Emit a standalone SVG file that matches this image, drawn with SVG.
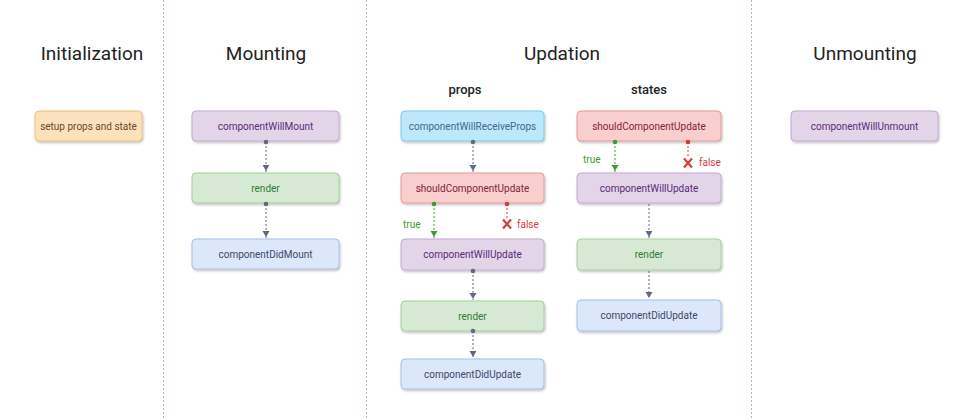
<svg xmlns="http://www.w3.org/2000/svg" width="966" height="420" viewBox="0 0 966 420">
<defs>
<filter id="sh" x="-10%" y="-20%" width="120%" height="150%">
<feDropShadow dx="1" dy="1.5" stdDeviation="0.8" flood-color="#000" flood-opacity="0.25"/>
</filter>
<marker id="ag" viewBox="0 0 8 8" refX="4" refY="8" markerWidth="7" markerHeight="7" markerUnits="userSpaceOnUse" orient="auto-start-reverse"><path d="M0,0 L8,0 L4,8 Z" transform="rotate(0)" fill="#5d6b82"/></marker>
</defs>
<style>
.sep{stroke:#9cc98e;stroke-width:1;stroke-dasharray:2 2}
.title{font-family:Roboto,"Liberation Sans",sans-serif;font-size:19px;fill:#222;text-anchor:middle}
.sub{font-family:Roboto,"Liberation Sans",sans-serif;font-size:13px;font-weight:500;fill:#222;text-anchor:middle}
.box{filter:url(#sh);stroke-width:1}
.t{font-family:Roboto,"Liberation Sans",sans-serif;font-size:10px;text-anchor:middle}
.or{fill:#fde1bd;stroke:#eec081}
.pu{fill:#e2d5e8;stroke:#c2aad0}
.gr{fill:#d6e9d3;stroke:#a5cf9a}
.bl{fill:#dbe7fb;stroke:#a5bfe6}
.cy{fill:#bde7fa;stroke:#7ccbe8}
.rd{fill:#f8cfcd;stroke:#e49a99}
.tor{fill:#6a4a2a}.tpu{fill:#5a2a7a}.tgr{fill:#2f7d32}.tbl{fill:#394a6a}.tcy{fill:#3e6a8c}.trd{fill:#8a2035}
.ln{stroke:#5d6b82;stroke-width:1;stroke-dasharray:2 2;fill:none}
.dot{fill:#5d6b82}
.lg{stroke:#3d9a2e;stroke-width:1;stroke-dasharray:2 2;fill:none}
.lr{stroke:#d43b3b;stroke-width:1;stroke-dasharray:2 2;fill:none}
.lbl{font-family:Roboto,"Liberation Sans",sans-serif;font-size:10px}
</style>
<rect width="966" height="420" fill="#fff"/>
<g id="separators">
<line class="sep" x1="163.5" y1="0" x2="163.5" y2="420"/>
<line class="sep" x1="366.5" y1="0" x2="366.5" y2="420"/>
<line class="sep" x1="751.5" y1="0" x2="751.5" y2="420"/>
</g>
<g id="titles">
<text class="title" x="92" y="60">Initialization</text>
<text class="title" x="266" y="60">Mounting</text>
<text class="title" x="562" y="60">Updation</text>
<text class="title" x="865" y="60">Unmounting</text>
<text class="sub" x="465" y="94">props</text>
<text class="sub" x="649" y="94">states</text>
</g>
<g id="init-setup"><rect class="box or" x="35" y="111" width="107" height="30" rx="4"/><text class="t tor" x="88.5" y="129.5">setup props and state</text></g>
<g id="mount-willmount"><rect class="box pu" x="192" y="111" width="147" height="30" rx="4"/><text class="t tpu" x="265.5" y="129.5">componentWillMount</text></g>
<g id="mount-render"><rect class="box gr" x="192" y="173" width="147" height="30" rx="4"/><text class="t tgr" x="265.5" y="191.5">render</text></g>
<g id="mount-didmount"><rect class="box bl" x="192" y="239" width="147" height="30" rx="4"/><text class="t tbl" x="265.5" y="257.5">componentDidMount</text></g>
<g id="props-receive"><rect class="box cy" x="401" y="111" width="143" height="30" rx="4"/><text class="t tcy" x="472.5" y="129.5">componentWillReceiveProps</text></g>
<g id="props-should"><rect class="box rd" x="401" y="173" width="143" height="30" rx="4"/><text class="t trd" x="472.5" y="191.5">shouldComponentUpdate</text></g>
<g id="props-willupdate"><rect class="box pu" x="401" y="239" width="143" height="31" rx="4"/><text class="t tpu" x="472.5" y="258">componentWillUpdate</text></g>
<g id="props-render"><rect class="box gr" x="401" y="301" width="143" height="30" rx="4"/><text class="t tgr" x="472.5" y="319.5">render</text></g>
<g id="props-didupdate"><rect class="box bl" x="401" y="359" width="143" height="30" rx="4"/><text class="t tbl" x="472.5" y="377.5">componentDidUpdate</text></g>
<g id="states-should"><rect class="box rd" x="577" y="111" width="144" height="30" rx="4"/><text class="t trd" x="649" y="129.5">shouldComponentUpdate</text></g>
<g id="states-willupdate"><rect class="box pu" x="577" y="173" width="144" height="30" rx="4"/><text class="t tpu" x="649" y="191.5">componentWillUpdate</text></g>
<g id="states-render"><rect class="box gr" x="577" y="239" width="144" height="31" rx="4"/><text class="t tgr" x="649" y="258">render</text></g>
<g id="states-didupdate"><rect class="box bl" x="577" y="300" width="144" height="31" rx="4"/><text class="t tbl" x="649" y="319">componentDidUpdate</text></g>
<g id="unmount-willunmount"><rect class="box pu" x="791" y="111" width="147" height="30" rx="4"/><text class="t tpu" x="864.5" y="129.5">componentWillUnmount</text></g>
<g id="connectors">
<line class="ln" x1="266" y1="142" x2="266" y2="172"/><circle class="dot" cx="266" cy="142" r="2.3"/><path class="dot" d="M262.5,165 L269.5,165 L266,171 Z"/>
<line class="ln" x1="266" y1="204" x2="266" y2="238"/><circle class="dot" cx="266" cy="204" r="2.3"/><path class="dot" d="M262.5,231 L269.5,231 L266,237 Z"/>
<line class="ln" x1="473" y1="142" x2="473" y2="172"/><circle class="dot" cx="473" cy="142" r="2.3"/><path class="dot" d="M469.5,165 L476.5,165 L473,171 Z"/>
<line class="lg" x1="434" y1="204" x2="434" y2="238"/><circle cx="434" cy="204" r="2.3" fill="#3d9a2e"/><path d="M430.5,231 L437.5,231 L434,237 Z" fill="#3d9a2e"/>
<text class="lbl" x="403" y="228" fill="#3d9a2e">true</text>
<line class="lr" x1="507" y1="204" x2="507" y2="219"/><circle cx="507" cy="204" r="2.3" fill="#d43b3b"/>
<path d="M503,219.5 L511,228.5 M511,219.5 L503,228.5" stroke="#d43b3b" stroke-width="2.2" fill="none"/>
<text class="lbl" x="517" y="228" fill="#d43b3b">false</text>
<line class="ln" x1="473" y1="271" x2="473" y2="300"/><circle class="dot" cx="473" cy="271" r="2.3"/><path class="dot" d="M469.5,293 L476.5,293 L473,299 Z"/>
<line class="ln" x1="473" y1="331" x2="473" y2="358"/><circle class="dot" cx="473" cy="331" r="2.3"/><path class="dot" d="M469.5,351 L476.5,351 L473,357 Z"/>
<line class="lg" x1="615" y1="142" x2="615" y2="172"/><circle cx="615" cy="142" r="2.3" fill="#3d9a2e"/><path d="M611.5,165 L618.5,165 L615,171 Z" fill="#3d9a2e"/>
<text class="lbl" x="583" y="163" fill="#3d9a2e">true</text>
<line class="lr" x1="688" y1="142" x2="688" y2="158"/><circle cx="688" cy="142" r="2.3" fill="#d43b3b"/>
<path d="M684,158.5 L692,167.5 M692,158.5 L684,167.5" stroke="#d43b3b" stroke-width="2.2" fill="none"/>
<text class="lbl" x="699" y="166" fill="#d43b3b">false</text>
<line class="ln" x1="649" y1="204" x2="649" y2="238"/><path class="dot" d="M645.5,231 L652.5,231 L649,237 Z"/>
<line class="ln" x1="649" y1="271" x2="649" y2="299"/><path class="dot" d="M645.5,292 L652.5,292 L649,298 Z"/>
</g>
</svg>
